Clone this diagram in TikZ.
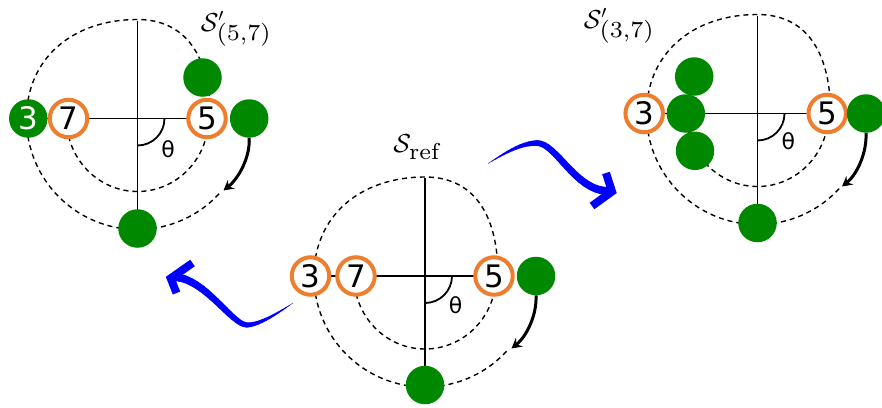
\documentclass[tikz,border=0pt]{standalone}
\usepackage{fix-cm}
\usepackage{fontspec}
\newfontfamily\dvsans{DejaVu Sans}
\usetikzlibrary{arrows.meta,backgrounds}
\definecolor{ringorange}{RGB}{238,125,45}
\definecolor{dotgreen}{RGB}{0,136,0}
\font\subrm=cmr7 at 23pt
\tikzset{
  pics/guides/.style={code={
    \draw[guide] (-111,0) .. controls (-111,-59) and (-66,-99) .. (0,-99)
                 .. controls (47,-99) and (73,-64) .. (73,0);
    \draw[guide] (180:111) arc[start angle=180,end angle=41,radius=111];
    \draw[guide] (180:71) arc[start angle=180,end angle=0,x radius=71,y radius=73];
    \draw[thetaarc] (0:27) arc[start angle=0,end angle=90,radius=27];
  }}
}
\begin{document}
\begin{tikzpicture}[x=1pt,y=-1pt,
  ring/.style={circle,draw=ringorange,line width=4pt,fill=white,minimum size=37.5pt,inner sep=0pt,font=\dvsans\fontsize{31}{31}\selectfont},
  gdot/.style={circle,fill=dotgreen,minimum size=38.5pt,inner sep=0pt,font=\dvsans\fontsize{31}{31}\selectfont,text=white},
  axline/.style={line width=1.5pt},
  guide/.style={line width=1.4pt,dash pattern=on 5pt off 4pt},
  thetaarc/.style={line width=1.8pt},
  thetalab/.style={font=\dvsans\fontsize{22}{22}\selectfont,inner sep=0pt},
  rotarrow/.style={line width=3pt,-{Stealth[length=10pt,width=11pt,inset=3.5pt]}},
  statelab/.style={font=\fontsize{26}{30}\selectfont,inner sep=0pt},
  brush/.style={blue,line cap=round},
  brushhead/.style={blue,line width=8pt,line join=miter},
]
\useasboundingbox (0,0) rectangle (882,407);

% ---------- centre diagram (reference) ----------
\node[ring] (C3) at (310.5,276) {3};
\node[ring] (C7) at (356,276) {7};
\node[ring] (C5) at (494,276) {5};
\node[gdot] (Cg) at (536,276) {};
\node[gdot] (Cb) at (425,385) {};
\coordinate (Ctop) at (425,178);
\coordinate (Ctip) at (511.5,348.5);
\node[thetalab] (Cth) at (455.5,305) {θ};
\node[statelab] (Clab) at (416.5,147) {$\mathcal{S}_{\hbox{\subrm ref}}$};
\draw[rotarrow] (Cg.south) .. controls +(1,19) and +(15.5,-12.5) .. (Ctip);

% ---------- left diagram ----------
\node[gdot] (L3) at (28.3,118.5) {3};
\node[ring] (L7) at (68.5,118.5) {7};
\node[ring] (L5) at (207,118.5) {5};
\node[gdot] (Lg) at (249.2,118.5) {};
\node[gdot] (Lu) at (202.5,77.5) {};
\node[gdot] (Lb) at (137.5,228.5) {};
\coordinate (Ltop) at (137.5,20.5);
\coordinate (Ltip) at (223.5,190.5);
\node[thetalab] (Lth) at (168,149) {θ};
\node[statelab] (Llab) at (236,29) {$\mathcal{S}'_{\hbox{\subrm(5,7)}}$};
\draw[rotarrow] (Lg.south) .. controls +(1,19) and +(15.5,-12.5) .. (Ltip);

% ---------- right diagram ----------
\node[ring] (R3) at (644.2,113.5) {3};
\node[gdot] (Rm) at (685.8,113.5) {};
\node[gdot] (Ru) at (694.2,76.5) {};
\node[gdot] (Rl) at (695,150.8) {};
\node[ring] (R5) at (827.2,113.5) {5};
\node[gdot] (Rg) at (866,113.5) {};
\node[gdot] (Rb) at (757.5,223) {};
\coordinate (Rtop) at (757.5,15.5);
\coordinate (Rtip) at (842,186.5);
\node[thetalab] (Rth) at (788.3,141.5) {θ};
\node[statelab] (Rlab) at (619,26) {$\mathcal{S}'_{\hbox{\subrm(3,7)}}$};
\draw[rotarrow] (Rg.south) .. controls +(1,19) and +(15.5,-12.5) .. (Rtip);

% ---------- guides and axes behind ----------
\begin{scope}[on background layer]
  \pic at (425,276) {guides};
  \pic at (137.5,118.5) {guides};
  \pic at (757.5,113.5) {guides};
  \draw[axline] (C3.center) -- (C5.center);
  \draw[axline] (Ctop) -- (Cb.center);
  \draw[axline] (L3.center) -- (L5.center);
  \draw[axline] (Ltop) -- (Lb.center);
  \draw[axline] (R3.center) -- (R5.center);
  \draw[axline] (Rtop) -- (Rb.center);
\end{scope}

% ---------- blue brush arrows ----------
\path (293,303) .. controls (281,311) and (260,325) .. (247,325)
  foreach \k in {0,...,12} {coordinate[pos=\k/12] (bA\k)};
\path (247,325) .. controls (232,325) and (205,278) .. (174,277)
  foreach \k in {0,...,16} {coordinate[pos=\k/16] (bB\k)};
\foreach \k [count=\n from 1, evaluate=\k as \w using 0.4+0.4*\k] in {0,...,11}
  {\draw[brush,line width=\w pt] (bA\k) -- (bA\n);}
\foreach \k [count=\n from 1, evaluate=\k as \w using 5.2+0.18*\k] in {0,...,15}
  {\draw[brush,line width=\w pt] (bB\k) -- (bB\n);}
\coordinate (hLa) at (192.5,263);
\coordinate (hLc) at (170.7,278.3);
\coordinate (hLb) at (176.5,293);
\draw[brushhead] (hLa) -- (hLc) -- (hLb);

\path (488,163.5) .. controls (502,155) and (520,143) .. (537,143)
  foreach \k in {0,...,12} {coordinate[pos=\k/12] (cA\k)};
\path (537,143) .. controls (556,143) and (575,190) .. (607,191)
  foreach \k in {0,...,16} {coordinate[pos=\k/16] (cB\k)};
\foreach \k [count=\n from 1, evaluate=\k as \w using 0.4+0.45*\k] in {0,...,11}
  {\draw[brush,line width=\w pt] (cA\k) -- (cA\n);}
\foreach \k [count=\n from 1, evaluate=\k as \w using 5.8+0.14*\k] in {0,...,15}
  {\draw[brush,line width=\w pt] (cB\k) -- (cB\n);}
\coordinate (hRa) at (606,173);
\coordinate (hRc) at (612,191.5);
\coordinate (hRb) at (592,206);
\draw[brushhead] (hRa) -- (hRc) -- (hRb);
\end{tikzpicture}
\end{document}
